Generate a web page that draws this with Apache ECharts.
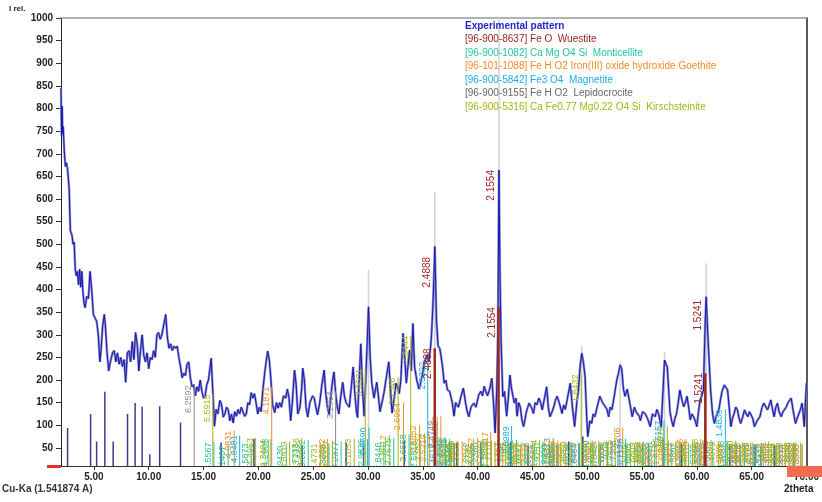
<!DOCTYPE html>
<html>
<head>
<meta charset="utf-8">
<title>XRD pattern</title>
<script src="https://cdn.jsdelivr.net/npm/echarts@6/dist/echarts.min.js"></script>
<style>
  html, body { margin: 0; padding: 0; background: #fff; }
  #chart { width: 822px; height: 502px; }
</style>
</head>
<body>
<div id="chart"></div>
<script>
const X_MIN = 2
const X_MAX = 70
const Y_MIN = 10
const Y_MAX = 1000
const WAVELENGTH = 1.541874

const xTicks = [5, 10, 15, 20, 25, 30, 35, 40, 45, 50, 55, 60, 65, 70]
const yTicks = [50, 100, 150, 200, 250, 300, 350, 400, 450, 500, 550, 600, 650, 700, 750, 800, 850, 900, 950, 1000]

// experimental pattern [2theta, I rel.]
const experimental = [
  [2.0, 845], [2.05, 740], [2.1, 805], [2.15, 745], [2.2, 760], [2.3, 705], [2.4, 672], [2.5, 680], [2.6, 665],
  [2.75, 620], [2.85, 530], [3.0, 520], [3.1, 500], [3.2, 505], [3.3, 445], [3.4, 430], [3.5, 440], [3.6, 410],
  [3.7, 445], [3.8, 405], [3.9, 440], [4.0, 395], [4.1, 370], [4.2, 360], [4.35, 385], [4.5, 380], [4.65, 440],
  [4.8, 400], [4.95, 345], [5.1, 345], [5.25, 330], [5.4, 300], [5.55, 240], [5.65, 265], [5.8, 320], [5.95, 345],
  [6.05, 320], [6.2, 260], [6.35, 220], [6.5, 240], [6.7, 260], [6.85, 265], [7.0, 240], [7.15, 260], [7.3, 235],
  [7.45, 250], [7.6, 230], [7.75, 245], [7.9, 195], [8.05, 260], [8.2, 265], [8.35, 240], [8.5, 285], [8.65, 245],
  [8.8, 305], [8.95, 280], [9.1, 220], [9.25, 265], [9.4, 300], [9.55, 255], [9.7, 240], [9.85, 260], [10.0, 225],
  [10.15, 250], [10.3, 245], [10.45, 265], [10.6, 250], [10.75, 300], [10.9, 305], [11.05, 290], [11.2, 300],
  [11.35, 300], [11.55, 345], [11.7, 295], [11.85, 270], [12.0, 280], [12.15, 265], [12.3, 275], [12.45, 270],
  [12.6, 275], [12.75, 250], [12.9, 230], [13.05, 205], [13.2, 215], [13.35, 210], [13.5, 235], [13.65, 240],
  [13.8, 205], [13.95, 185], [14.1, 190], [14.25, 165], [14.4, 185], [14.55, 175], [14.7, 200], [14.85, 175],
  [15.0, 160], [15.15, 165], [15.3, 190], [15.45, 200], [15.7, 248], [15.85, 175], [16.0, 98], [16.15, 135],
  [16.3, 125], [16.5, 155], [16.65, 145], [16.8, 118], [16.95, 125], [17.1, 140], [17.25, 135], [17.4, 110],
  [17.55, 125], [17.7, 105], [17.85, 130], [18.0, 120], [18.15, 135], [18.3, 125], [18.45, 140], [18.6, 130],
  [18.75, 120], [18.9, 125], [19.05, 150], [19.2, 145], [19.35, 172], [19.5, 160], [19.65, 170], [19.8, 148],
  [19.95, 125], [20.1, 140], [20.25, 130], [20.4, 175], [20.6, 220], [20.85, 264], [21.0, 245], [21.15, 200],
  [21.3, 145], [21.5, 128], [21.65, 150], [21.8, 138], [21.95, 150], [22.1, 140], [22.3, 165], [22.5, 160],
  [22.65, 180], [22.8, 160], [22.95, 110], [23.1, 150], [23.3, 222], [23.45, 190], [23.6, 125], [23.8, 140],
  [23.95, 180], [24.05, 226], [24.2, 200], [24.35, 140], [24.5, 118], [24.7, 150], [24.95, 165], [25.1, 160],
  [25.25, 140], [25.4, 123], [25.6, 150], [25.8, 190], [26.0, 222], [26.15, 170], [26.3, 140], [26.45, 124],
  [26.6, 160], [26.75, 195], [26.9, 218], [27.05, 170], [27.2, 140], [27.35, 125], [27.5, 160], [27.7, 195],
  [27.85, 165], [28.0, 150], [28.15, 145], [28.3, 140], [28.5, 190], [28.65, 229], [28.8, 170], [28.95, 130],
  [29.05, 117], [29.2, 200], [29.35, 280], [29.5, 180], [29.65, 120], [29.8, 200], [30.05, 362], [30.2, 250],
  [30.35, 193], [30.55, 160], [30.8, 195], [30.95, 165], [31.1, 130], [31.2, 126], [31.45, 170], [31.7, 210],
  [31.9, 240], [32.05, 180], [32.2, 127], [32.4, 160], [32.55, 193], [32.7, 185], [32.85, 170], [33.0, 200],
  [33.2, 303], [33.35, 250], [33.5, 193], [33.65, 230], [33.8, 266], [33.95, 220], [34.1, 325], [34.25, 230],
  [34.45, 200], [34.65, 180], [34.8, 193], [34.95, 210], [35.1, 233], [35.25, 245], [35.4, 256], [35.55, 240],
  [35.7, 270], [35.8, 300], [35.95, 380], [36.1, 495], [36.25, 330], [36.4, 275], [36.55, 270], [36.65, 255],
  [36.8, 230], [36.95, 193], [37.1, 200], [37.25, 178], [37.45, 175], [37.7, 149], [37.85, 120], [38.0, 150],
  [38.25, 140], [38.5, 165], [38.7, 182], [38.9, 150], [39.05, 130], [39.2, 119], [39.4, 140], [39.65, 149],
  [39.85, 140], [40.1, 167], [40.3, 175], [40.45, 165], [40.6, 186], [40.75, 175], [40.9, 165], [41.1, 180],
  [41.3, 204], [41.45, 150], [41.6, 83], [41.75, 180], [41.85, 300], [41.95, 664], [42.05, 420], [42.15, 280],
  [42.3, 163], [42.45, 175], [42.65, 120], [42.8, 160], [42.95, 211], [43.1, 180], [43.35, 149], [43.5, 160],
  [43.6, 120], [43.75, 150], [43.9, 140], [44.05, 110], [44.2, 97], [44.45, 130], [44.7, 149], [44.9, 140],
  [45.1, 126], [45.25, 150], [45.4, 145], [45.6, 160], [45.75, 150], [45.9, 134], [46.1, 160], [46.3, 185],
  [46.45, 140], [46.6, 119], [46.8, 130], [46.95, 141], [47.1, 155], [47.25, 164], [47.45, 150], [47.7, 126],
  [47.85, 145], [48.0, 135], [48.2, 160], [48.45, 193], [48.65, 140], [48.85, 97], [49.05, 150], [49.2, 178],
  [49.35, 230], [49.5, 259], [49.65, 240], [49.8, 208], [49.95, 120], [50.05, 75], [50.25, 110], [50.4, 104],
  [50.55, 125], [50.7, 119], [50.9, 140], [51.15, 164], [51.4, 150], [51.65, 141], [51.8, 135], [51.95, 119],
  [52.1, 140], [52.25, 134], [52.5, 170], [52.7, 200], [52.85, 215], [53.0, 233], [53.15, 225], [53.3, 180],
  [53.45, 164], [53.65, 180], [53.8, 178], [53.95, 140], [54.1, 119], [54.3, 140], [54.45, 130], [54.6, 126],
  [54.75, 120], [54.85, 110], [55.05, 130], [55.3, 125], [55.5, 115], [55.75, 97], [55.95, 125], [56.2, 119],
  [56.35, 135], [56.5, 126], [56.75, 97], [56.9, 170], [57.05, 244], [57.2, 235], [57.3, 229], [57.45, 170],
  [57.55, 130], [57.7, 110], [57.85, 97], [58.0, 115], [58.15, 126], [58.3, 150], [58.45, 178], [58.6, 160],
  [58.8, 141], [58.95, 150], [59.1, 164], [59.25, 140], [59.4, 112], [59.55, 125], [59.7, 119], [59.85, 110],
  [60.0, 97], [60.15, 130], [60.3, 156], [60.45, 165], [60.6, 178], [60.75, 318], [60.85, 384], [61.0, 300],
  [61.1, 252], [61.25, 180], [61.4, 134], [61.5, 115], [61.6, 104], [61.75, 120], [61.9, 126], [62.05, 140],
  [62.15, 156], [62.3, 175], [62.5, 189], [62.65, 185], [62.8, 178], [62.95, 140], [63.1, 97], [63.25, 115],
  [63.4, 126], [63.55, 140], [63.7, 134], [63.85, 115], [64.0, 104], [64.2, 120], [64.35, 134], [64.5, 125],
  [64.65, 119], [64.8, 130], [64.95, 134], [65.1, 115], [65.25, 97], [65.5, 110], [65.75, 119], [65.95, 140],
  [66.1, 149], [66.3, 140], [66.45, 134], [66.6, 145], [66.75, 156], [66.9, 135], [67.05, 119], [67.2, 140],
  [67.35, 149], [67.5, 130], [67.7, 119], [67.85, 130], [68.0, 134], [68.15, 140], [68.3, 149], [68.45, 155],
  [68.6, 160], [68.8, 130], [69.0, 104], [69.15, 115], [69.3, 119], [69.45, 135], [69.6, 149], [69.8, 97],
  [69.9, 150], [70.0, 193]
]

// peak search markers (light grey lines above peaks)
const peakMarkers = [[30.05, 443], [36.1, 616], [41.95, 1000], [49.5, 276], [53.0, 240], [57.05, 263], [60.85, 458]]

// experimental peak sticks (navy)
const peakSticks = [
  [2.6, 94], [4.7, 125], [5.25, 64], [6.0, 174], [6.76, 64], [8.07, 125], [8.76, 149], [9.4, 141], [10.1, 36],
  [11.0, 142], [12.9, 106], [16.6, 62], [19.6, 70], [24.0, 55], [28.0, 62], [29.6, 58], [33.3, 65], [38.1, 60],
  [40.3, 62], [43.0, 62], [44.6, 56], [48.3, 64], [49.6, 75], [51.2, 56], [55.6, 58], [56.9, 70], [58.6, 60],
  [63.0, 56], [65.3, 58], [67.1, 56], [68.8, 58]
]

// Wuestite sticks and labels
const wuestite = [[36.09, 270], [41.91, 361], [60.77, 215]]
const wuestitePeaks = [[36.09, 472], [41.91, 664], [60.77, 377]]
const wuestiteLabels = ['2.4888', '2.1554', '1.5241']

const monticellite = [
  [15.95, 62], [17.25, 55], [19.35, 60], [21.15, 70], [22.55, 55], [23.9, 60], [24.55, 68], [26.45, 58], [27.55, 64],
  [29.95, 70], [31.45, 62], [32.35, 72], [33.75, 80], [34.75, 66], [36.5, 60], [37.45, 70], [37.9, 58], [38.15, 62],
  [39.65, 58], [40.3, 62], [41.25, 66], [42.85, 60], [43.55, 68], [44.3, 60], [45.15, 58], [45.95, 64], [46.6, 58],
  [47.35, 60], [48.6, 58], [49.2, 62], [50.45, 66], [51.2, 58], [51.85, 60], [52.25, 64], [53.55, 58], [54.3, 60],
  [55.05, 62], [55.6, 58], [56.15, 66], [57.65, 60], [58.4, 62], [59.25, 58], [60.2, 58], [61.45, 64], [62.75, 66],
  [63.6, 60], [64.35, 58], [65.2, 58], [66.05, 60], [67.0, 60], [67.55, 58], [68.95, 62], [69.6, 58]
]
const goethite = [
  [17.8, 88], [21.22, 185], [26.32, 70], [33.24, 150], [34.7, 100], [35.6, 80], [36.65, 120], [38.6, 64], [39.98, 72],
  [41.19, 85], [42.3, 62], [43.9, 58], [45.0, 62], [47.3, 66], [48.0, 60], [50.6, 62], [51.8, 62], [53.24, 95],
  [55.3, 60], [56.3, 58], [57.4, 66], [58.1, 62], [59.0, 70], [60.4, 60], [61.3, 68], [62.6, 58], [63.9, 58],
  [64.9, 62], [65.9, 60], [66.8, 60], [67.8, 58], [68.9, 58], [69.6, 58]
]
const magnetite = [
  [18.3, 78], [30.1, 95], [35.45, 240], [37.08, 72], [43.1, 98], [47.2, 56], [53.5, 70], [57.0, 110], [62.6, 135], [65.8, 54]
]
const lepidocrocite = [
  [14.15, 188], [27.05, 175], [36.3, 110], [38.2, 62], [46.9, 72], [49.3, 60], [52.9, 66], [60.6, 62], [64.0, 58], [68.4, 58]
]
const kirschsteinite = [
  [15.85, 168], [19.75, 72], [20.95, 68], [22.85, 64], [23.95, 72], [25.65, 60], [26.75, 66], [28.75, 70], [29.75, 225],
  [31.95, 78], [32.75, 205], [33.9, 298], [35.15, 82], [36.95, 74], [37.6, 60], [38.15, 66], [39.45, 62], [40.85, 70],
  [41.6, 64], [42.55, 64], [43.3, 60], [44.05, 62], [45.65, 68], [46.8, 62], [47.55, 62], [48.45, 64], [49.45, 212],
  [50.3, 60], [51.05, 66], [52.55, 68], [53.95, 62], [54.6, 62], [55.15, 64], [56.85, 72], [57.3, 98], [58.85, 66],
  [59.6, 64], [60.35, 70], [61.95, 64], [62.8, 60], [63.55, 66], [64.2, 62], [65.05, 62], [66.55, 64], [67.3, 60],
  [68.05, 62], [68.8, 62], [69.45, 62]
]

const legendLines = [
  'Experimental pattern',
  '[96-900-8637] Fe O  Wuestite',
  '[96-900-1082] Ca Mg O4 Si  Monticellite',
  '[96-101-1088] Fe H O2 Iron(III) oxide hydroxide Goethite',
  '[96-900-5842] Fe3 O4  Magnetite',
  '[96-900-9155] Fe H O2  Lepidocrocite',
  '[96-900-5316] Ca Fe0.77 Mg0.22 O4 Si  Kirschsteinite'
]
const legendColors = ['#2626c8', '#981c1c', '#22c49a', '#f08c28', '#1aaee6', '#666666', '#a5b418']

const FONT = '"Liberation Sans", Arial, sans-serif'

// d-spacing label from 2theta (Bragg)
const dLabel = (t) => (WAVELENGTH / (2 * Math.sin((t / 2) * Math.PI / 180))).toFixed(4)

// vertical stick with optional rotated label hanging left of its top
const stickRenderer = (color, width, labels, fontSize) => (params, api) => {
  const t = api.value(0)
  const top = api.coord([t, api.value(1)])
  const base = api.coord([t, Y_MIN])
  const children = [{
    type: 'line',
    shape: { x1: base[0], y1: base[1], x2: top[0], y2: top[1] },
    style: { stroke: color, lineWidth: width }
  }]
  if (labels) {
    children.push({
      type: 'text',
      x: top[0] - 1,
      y: top[1],
      rotation: Math.PI / 2,
      style: {
        text: labels[params.dataIndex],
        fill: color,
        font: fontSize + 'px ' + FONT,
        align: 'right',
        verticalAlign: 'bottom'
      }
    })
  }
  return { type: 'group', children }
}

const labelOnly = (color, labels, fontSize) => (params, api) => {
  const top = api.coord([api.value(0), api.value(1)])
  return {
    type: 'text',
    x: top[0] - 2,
    y: top[1],
    rotation: Math.PI / 2,
    style: {
      text: labels[params.dataIndex],
      fill: color,
      font: fontSize + 'px ' + FONT,
      align: 'right',
      verticalAlign: 'bottom'
    }
  }
}

const phaseSeries = (data, color, z) => ({
  type: 'custom',
  data,
  clip: true,
  z,
  silent: true,
  encode: { x: 0, y: 1 },
  renderItem: stickRenderer(color, 1, data.map((d) => dLabel(d[0])), 9)
})

const chart = echarts.init(document.getElementById('chart'), null, { renderer: 'canvas' })

const axisLabelStyle = {
  fontSize: 10,
  fontWeight: 'bold',
  fontFamily: FONT,
  color: '#222'
}

chart.setOption({
  animation: false,
  backgroundColor: '#ffffff',
  grid: { left: 61, right: 14, top: 18, bottom: 36 },
  xAxis: [{
    type: 'value',
    min: X_MIN,
    max: X_MAX,
    axisLine: { show: true, lineStyle: { color: '#333', width: 1 } },
    axisTick: { show: true, length: 4, lineStyle: { color: '#333' }, customValues: xTicks },
    axisLabel: { ...axisLabelStyle, margin: 6, customValues: xTicks, formatter: (v) => v.toFixed(2) },
    splitLine: { show: false }
  }, {
    type: 'value',
    position: 'top',
    min: X_MIN,
    max: X_MAX,
    axisLine: { show: true, lineStyle: { color: '#9a9a9a', width: 1.5 } },
    axisTick: { show: false },
    axisLabel: { show: false },
    splitLine: { show: false }
  }],
  yAxis: [{
    type: 'value',
    min: Y_MIN,
    max: Y_MAX,
    axisLine: { show: true, lineStyle: { color: '#222', width: 1 } },
    axisTick: { show: true, length: 5, lineStyle: { color: '#333' }, customValues: yTicks },
    axisLabel: { ...axisLabelStyle, margin: 8, customValues: yTicks, formatter: (v) => String(v) },
    splitLine: { show: false }
  }, {
    type: 'value',
    position: 'right',
    min: Y_MIN,
    max: Y_MAX,
    axisLine: { show: true, lineStyle: { color: '#222', width: 1.5 } },
    axisTick: { show: false },
    axisLabel: { show: false },
    splitLine: { show: false }
  }],
  series: [
    {
      type: 'custom',
      data: peakMarkers,
      clip: true,
      z: 1,
      silent: true,
      encode: { x: 0, y: 1 },
      renderItem: stickRenderer('#d2d2d2', 1.5, null, 9)
    },
    {
      type: 'custom',
      data: peakSticks,
      clip: true,
      z: 2,
      silent: true,
      encode: { x: 0, y: 1 },
      renderItem: stickRenderer('#3c3c8c', 1.5, null, 9)
    },
    {
      type: 'line',
      data: experimental,
      showSymbol: false,
      z: 3,
      silent: true,
      lineStyle: { color: '#8c8cd2', width: 2.4 }
    },
    {
      type: 'line',
      data: experimental,
      showSymbol: false,
      z: 4,
      silent: true,
      lineStyle: { color: '#1818aa', width: 1 }
    },
    phaseSeries(monticellite, '#22c49a', 5),
    phaseSeries(goethite, '#f08c28', 6),
    phaseSeries(magnetite, '#1aaee6', 7),
    phaseSeries(lepidocrocite, '#8a8a8a', 8),
    phaseSeries(kirschsteinite, '#a5b418', 9),
    {
      type: 'custom',
      data: wuestite,
      clip: true,
      z: 10,
      silent: true,
      encode: { x: 0, y: 1 },
      renderItem: stickRenderer('#9a2a22', 2.5, wuestiteLabels, 10)
    },
    {
      type: 'custom',
      data: wuestitePeaks,
      clip: true,
      z: 10,
      silent: true,
      encode: { x: 0, y: 1 },
      renderItem: labelOnly('#a02828', wuestiteLabels, 10)
    }
  ],
  graphic: [
    { type: 'text', left: 9, top: 5, style: { text: 'I rel.', font: 'bold 8px ' + FONT, fill: '#222' } },
    { type: 'text', left: 2, top: 484, style: { text: 'Cu-Ka (1.541874 A)', font: 'bold 10px ' + FONT, fill: '#333' } },
    { type: 'text', left: 784, top: 484, style: { text: '2theta', font: 'bold 10px ' + FONT, fill: '#222' } },
    { type: 'rect', left: 47, top: 465, z: 100, shape: { width: 14, height: 3 }, style: { fill: '#e03030' } },
    { type: 'rect', left: 787, top: 466, z: 100, shape: { width: 35, height: 11 }, style: { fill: '#f26a50' } },
    ...legendLines.map((txt, i) => ({
      type: 'text',
      left: 465,
      top: 21 + i * 13.5,
      z: 100,
      style: {
        text: txt,
        fill: legendColors[i],
        font: (i === 0 ? 'bold ' : '') + '10px ' + FONT
      }
    }))
  ]
})
</script>
</body>
</html>
